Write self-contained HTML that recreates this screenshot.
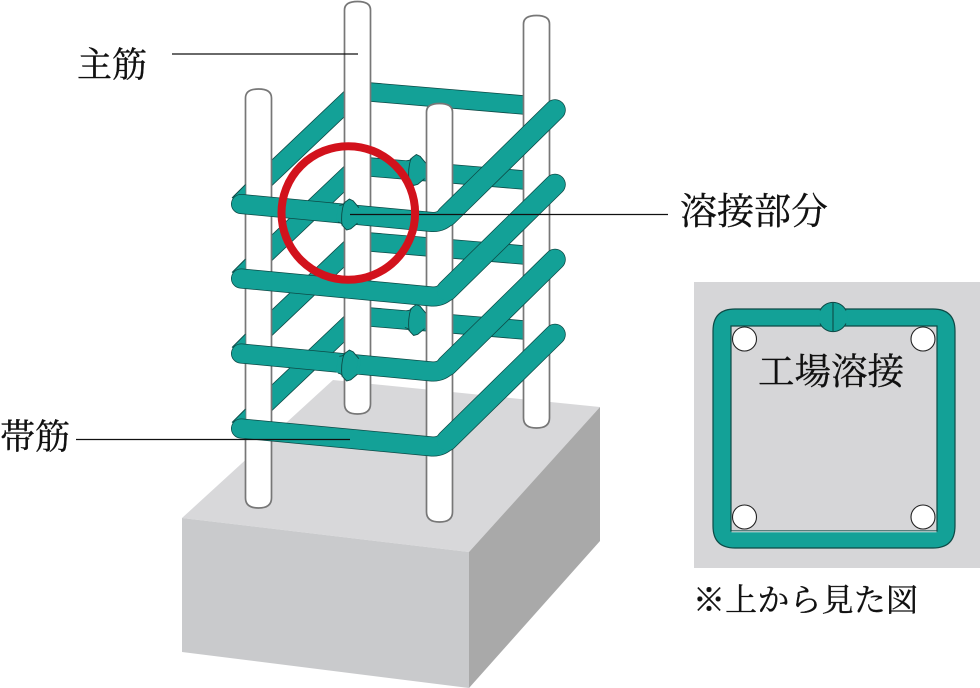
<!DOCTYPE html>
<html lang="ja"><head><meta charset="utf-8"><title>溶接部分</title>
<style>html,body{margin:0;padding:0;background:#fff}svg{display:block}
text{font-family:"Liberation Serif","Noto Serif CJK SC","Noto Serif CJK JP",serif;fill:#111;stroke:#111;stroke-width:.35}</style></head>
<body>
<svg xmlns="http://www.w3.org/2000/svg" xmlns:xlink="http://www.w3.org/1999/xlink" width="980" height="688" viewBox="0 0 980 688">
<defs>
<g id="back">
<path d="M240 203L358 91L536 106" fill="none" stroke="#0d4a46" stroke-width="19.4" stroke-linejoin="round"/>
<path d="M240 203L358 91L536 106" fill="none" stroke="#13a197" stroke-width="17.8" stroke-linejoin="round"/>
</g>
<g id="front">
<path d="M245.500 184.500L232 198L245.500 206Z" fill="#13a197"/>
<path d="M245.500 184.500L232 198" fill="none" stroke="#0d4a46" stroke-width=".9"/>
<path d="M241 204L432 222Q441 222.500 447 216" fill="none" stroke="#0d4a46" stroke-width="20" stroke-linecap="round"/>
<path d="M447 216L555 110" fill="none" stroke="#0d4a46" stroke-width="21.500" stroke-linecap="round"/>
<path d="M241 204L432 222Q441 222.500 447 216" fill="none" stroke="#13a197" stroke-width="18.500" stroke-linecap="round"/>
<path d="M447 216L555 110" fill="none" stroke="#13a197" stroke-width="20" stroke-linecap="round"/>
</g>
<g id="weld">
<path d="M-9-8.500Q-5-9-4-12L0-15.500L4-14L10-8L10 8L4 14L0 15.500L-4 12Q-5 9-9 8.500Z" fill="#13a197" stroke="#0d4a46" stroke-width=".9"/>
<path d="M-11-8H-7V8H-11Z" fill="#13a197"/>
<path d="M9-7.600H12V7.600H9Z" fill="#13a197"/>
<path d="M-5-11.500Q-7.500 0-5 11.500" fill="none" stroke="#0d4a46" stroke-width=".9"/>
</g>
<path id="rodA" d="M245.500 498V98Q245.500 89 258.500 89Q271.500 89 271.500 98V498Q271.500 508 258.500 508Q245.500 508 245.500 498Z"/>
<path id="rodB" d="M344.500 404V10Q344.500 1.500 357.500 1.500Q370.500 1.500 370.500 10V404Q370.500 414 357.500 414Q344.500 414 344.500 404Z"/>
<path id="rodC" d="M426.500 512V112Q426.500 103.500 439.500 103.500Q452.500 103.500 452.500 112V512Q452.500 522 439.500 522Q426.500 522 426.500 512Z"/>
<path id="rodD" d="M523.500 418V24Q523.500 15.500 536.500 15.500Q549.500 15.500 549.500 24V418Q549.500 428 536.500 428Q523.500 428 523.500 418Z"/>
</defs>

<!-- concrete block -->
<polygon points="182,518 333,380 600,407 469,552" fill="#d8d8da"/>
<polygon points="182,518 469,552 469,688 182,652" fill="#c9cacc"/>
<polygon points="469,552 600,407 600,541 469,688" fill="#a9a9a9"/>

<!-- hoops, rear parts -->
<use xlink:href="#back"/>
<use xlink:href="#back" y="75"/>
<use xlink:href="#back" y="150"/>
<use xlink:href="#back" y="225"/>
<use xlink:href="#weld" transform="translate(415 170) rotate(5)"/>
<use xlink:href="#weld" transform="translate(415 320) rotate(5)"/>

<!-- main bars -->
<g fill="#fff" stroke="#777" stroke-width="1.700">
<use xlink:href="#rodA"/><use xlink:href="#rodB"/><use xlink:href="#rodC"/><use xlink:href="#rodD"/>
</g>

<!-- hoops, front parts -->
<use xlink:href="#front"/>
<use xlink:href="#front" y="74.500"/>
<use xlink:href="#front" y="149.500"/>
<use xlink:href="#front" y="224.500"/>
<use xlink:href="#weld" transform="translate(348 214.500) rotate(5)"/>
<use xlink:href="#weld" transform="translate(348 365.500) rotate(5)"/>

<!-- leaders -->
<g stroke="#111" stroke-width="1.300">
<line x1="172" y1="54" x2="358" y2="54"/>
<line x1="350" y1="214.500" x2="668" y2="214.500"/>
<line x1="76" y1="439.500" x2="350" y2="439.500"/>
</g>

<!-- red circle -->
<circle cx="348.300" cy="213" r="66.800" fill="none" stroke="#d2121c" stroke-width="8"/>

<!-- inset -->
<rect x="694" y="282" width="286" height="286" fill="#d6d6d8"/>
<path fill-rule="evenodd" d="M735 309H933Q955 309 955 331V526Q955 548 933 548H735Q713 548 713 526V331Q713 309 735 309ZM731 326V531H937V326Z" fill="#13a197" stroke="#0d4a46" stroke-width="1.200"/>
<line x1="731.500" y1="531.800" x2="936.500" y2="531.800" stroke="#fff" stroke-width=".8"/>
<circle cx="833" cy="317" r="14.500" fill="#13a197"/>
<path d="M820 310.500A14.500 14.500 0 0 1 846 310.500M820 323.500A14.500 14.500 0 0 0 846 323.500" fill="none" stroke="#0d4a46" stroke-width="1"/>
<line x1="833" y1="302.500" x2="833" y2="331.500" stroke="#0d4a46" stroke-width="1.100"/>
<g fill="#fff" stroke="#222" stroke-width="1.100">
<circle cx="744.500" cy="339" r="12"/><circle cx="923" cy="339" r="12"/>
<circle cx="744.500" cy="517" r="12"/><circle cx="923" cy="517" r="12"/>
</g>

<!-- labels -->
<text x="77" y="77" font-size="35" textLength="70" lengthAdjust="spacing">主筋</text>
<text x="680" y="224" font-size="37" textLength="148" lengthAdjust="spacing">溶接部分</text>
<text x="0" y="449" font-size="35" textLength="70" lengthAdjust="spacing">帯筋</text>
<text x="758" y="384" font-size="36.500" textLength="146" lengthAdjust="spacing">工場溶接</text>
<text x="693" y="611" font-size="32" textLength="225" lengthAdjust="spacing">※上から見た図</text>
</svg>
</body></html>
